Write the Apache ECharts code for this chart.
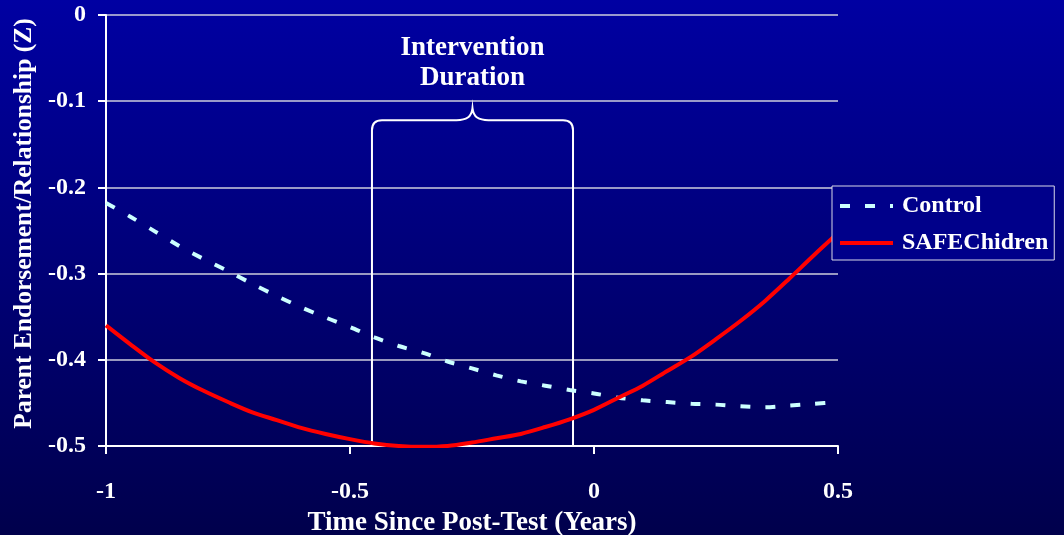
<!DOCTYPE html>
<html>
<head>
<meta charset="utf-8">
<script src="https://cdn.jsdelivr.net/npm/echarts@6/dist/echarts.min.js"></script>
<style>
html,body{margin:0;padding:0;}
#chart{width:1064px;height:535px;}
</style>
</head>
<body>
<div id="chart"></div>
<script>
// ---- data ----
var xValues = [-1, -0.95, -0.9, -0.85, -0.8, -0.75, -0.7, -0.65, -0.6, -0.55, -0.5, -0.45, -0.4, -0.35, -0.3, -0.25, -0.2, -0.15, -0.1, -0.05, 0, 0.05, 0.1, 0.15, 0.2, 0.25, 0.3, 0.35, 0.4, 0.45, 0.5];
var controlValues = [-0.218, -0.234, -0.251, -0.268, -0.283, -0.297, -0.312, -0.326, -0.339, -0.351, -0.362, -0.374, -0.384, -0.392, -0.402, -0.410, -0.418, -0.425, -0.430, -0.435, -0.439, -0.444, -0.447, -0.449, -0.451, -0.452, -0.454, -0.455, -0.453, -0.451, -0.449];
var safeValues = [-0.360, -0.382, -0.403, -0.421, -0.436, -0.449, -0.461, -0.470, -0.479, -0.486, -0.492, -0.497, -0.500, -0.501, -0.500, -0.496, -0.491, -0.486, -0.478, -0.469, -0.458, -0.444, -0.430, -0.413, -0.396, -0.376, -0.355, -0.332, -0.306, -0.279, -0.253];
var seriesNames = ['Control', 'SAFEChidren'];
var xTicks = [-1, -0.5, 0, 0.5];
var yTicks = [0, -0.1, -0.2, -0.3, -0.4, -0.5];
var interventionStart = -0.455;
var interventionEnd = -0.043;
var bracketBottom = -0.5;
var bracketTop = -0.122;
var bracketCusp = -0.108;
var annotationText = 'Intervention\nDuration';
var xTitle = 'Time Since Post-Test (Years)';
var yTitle = 'Parent Endorsement/Relationship (Z)';

function pairs(xs, ys) { return xs.map(function (x, i) { return [x, ys[i]]; }); }

var FONT = '"Liberation Serif", "Times New Roman", serif';
var chart = echarts.init(document.getElementById('chart'));
chart.setOption({
  animation: false,
  backgroundColor: {
    type: 'linear', x: 0, y: 0, x2: 0, y2: 1,
    colorStops: [{offset: 0, color: '#0000a2'}, {offset: 1, color: '#00004c'}]
  },
  textStyle: {fontFamily: FONT, fontWeight: 'bold', color: '#ffffff'},
  grid: {left: 106, right: 226, top: 15, bottom: 89, containLabel: false, outerBoundsMode: 'none'},
  legend: {
    left: 832, top: 186,
    orient: 'vertical',
    data: seriesNames,
    itemWidth: 53, itemHeight: 14, itemGap: 13,
    padding: [8, 6, 5, 6],
    backgroundColor: '#00008a',
    borderColor: '#d8d8e8', borderWidth: 1,
    itemStyle: {opacity: 0},
    lineStyle: {width: 4},
    textStyle: {color: '#ffffff', fontFamily: FONT, fontWeight: 'bold', fontSize: 24, padding: [0, 0, 0, 4]}
  },
  xAxis: {
    type: 'value', min: xTicks[0], max: xTicks[xTicks.length - 1], interval: 0.5,
    name: xTitle, nameLocation: 'middle', nameGap: 64,
    nameTextStyle: {color: '#fff', fontFamily: FONT, fontWeight: 'bold', fontSize: 27},
    axisLine: {onZero: false, lineStyle: {color: '#ffffff', width: 2}},
    axisTick: {show: true, length: 8, lineStyle: {color: '#ffffff', width: 2}},
    axisLabel: {color: '#fff', fontFamily: FONT, fontWeight: 'bold', fontSize: 24, margin: 34,
      formatter: function (v) { return String(+v.toFixed(2)); }},
    splitLine: {show: false}
  },
  yAxis: {
    type: 'value', min: yTicks[yTicks.length - 1], max: yTicks[0], interval: 0.1,
    name: yTitle, nameLocation: 'middle', nameGap: 64, nameRotate: 90,
    nameTextStyle: {color: '#fff', fontFamily: FONT, fontWeight: 'bold', fontSize: 25.5, padding: [0, 0, 0, 14]},
    axisLine: {show: true, onZero: false, lineStyle: {color: '#ffffff', width: 2}},
    axisTick: {show: true, length: 8, lineStyle: {color: '#ffffff', width: 2}},
    axisLabel: {color: '#fff', fontFamily: FONT, fontWeight: 'bold', fontSize: 24, margin: 20,
      formatter: function (v) { return String(+v.toFixed(2)); }},
    splitLine: {show: true, lineStyle: {color: '#ccccdc', width: 1.5}}
  },
  series: [
    {
      type: 'custom',
      silent: true,
      z: 1,
      data: [[interventionStart, interventionEnd, bracketBottom, bracketTop, bracketCusp]],
      renderItem: function (params, api) {
        var x1 = api.value(0), x2 = api.value(1), yb = api.value(2), yt = api.value(3), yc = api.value(4);
        var mid = (x1 + x2) / 2;
        var pb1 = api.coord([x1, yb]);
        var pt1 = api.coord([x1, yt]);
        var pt2 = api.coord([x2, yt]);
        var pb2 = api.coord([x2, yb]);
        var pc = api.coord([mid, yc]);
        var r = 10, ty = pt1[1], cx = pc[0], cy = pc[1];
        var d = 'M' + pb1[0] + ' ' + pb1[1] +
          ' L' + pt1[0] + ' ' + (ty + r) +
          ' Q' + pt1[0] + ' ' + ty + ' ' + (pt1[0] + r) + ' ' + ty +
          ' L' + (cx - 16) + ' ' + ty +
          ' C' + (cx - 6) + ' ' + ty + ' ' + (cx - 1) + ' ' + (ty - 3) + ' ' + cx + ' ' + cy +
          ' C' + (cx + 1) + ' ' + (ty - 3) + ' ' + (cx + 6) + ' ' + ty + ' ' + (cx + 16) + ' ' + ty +
          ' L' + (pt2[0] - r) + ' ' + ty +
          ' Q' + pt2[0] + ' ' + ty + ' ' + pt2[0] + ' ' + (ty + r) +
          ' L' + pb2[0] + ' ' + pb2[1];
        return {
          type: 'group',
          children: [
            {type: 'path', shape: {pathData: d}, style: {fill: null, stroke: '#ffffff', lineWidth: 2}},
            {type: 'text', x: cx, y: cy - 15,
              style: {text: annotationText, fill: '#ffffff', fontFamily: FONT, fontWeight: 'bold', fontSize: 27,
                lineHeight: 30, align: 'center', verticalAlign: 'bottom'}}
          ]
        };
      }
    },
    {
      name: seriesNames[0], type: 'line', z: 3,
      data: pairs(xValues, controlValues),
      smooth: 0.3, symbol: 'none',
      lineStyle: {color: '#ccffff', width: 4, type: [10, 15]},
      itemStyle: {color: '#ccffff'}
    },
    {
      name: seriesNames[1], type: 'line', z: 3,
      data: pairs(xValues, safeValues),
      smooth: 0.3, symbol: 'none',
      lineStyle: {color: '#ff0000', width: 4},
      itemStyle: {color: '#ff0000'}
    }
  ]
});
</script>
</body>
</html>
